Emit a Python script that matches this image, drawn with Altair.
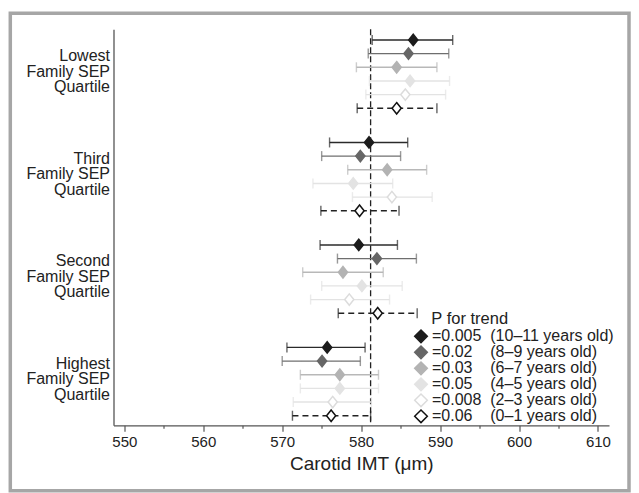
import altair as alt
import pandas as pd

groups = ["Lowest", "Third", "Second", "Highest"]
ages = ["10–11 years old", "8–9 years old", "6–7 years old",
        "4–5 years old", "2–3 years old", "0–1 years old"]
p_trend = ["0.005", "0.02", "0.03", "0.05", "0.008", "0.06"]

mean_lowest = [586.6, 586.0, 584.5, 586.2, 585.6, 584.5]
low_lowest = [581.4, 580.9, 579.4, 581.05, 580.6, 579.5]
high_lowest = [591.6, 591.1, 589.6, 591.2, 590.7, 589.6]

mean_third = [581.0, 579.9, 583.3, 579.0, 583.9, 579.8]
low_third = [576.0, 575.0, 578.3, 573.9, 578.9, 574.9]
high_third = [585.9, 585.0, 588.3, 584.0, 589.0, 584.8]

mean_second = [579.7, 582.0, 577.7, 580.1, 578.5, 582.1]
low_second = [574.8, 577.0, 572.6, 575.0, 573.6, 577.1]
high_second = [584.6, 587.0, 582.8, 585.2, 583.6, 587.1]

mean_highest = [575.7, 575.05, 577.3, 577.3, 576.4, 576.2]
low_highest = [570.6, 570.0, 572.3, 572.3, 571.4, 571.3]
high_highest = [580.5, 579.9, 582.2, 582.2, 581.3, 581.2]

overall_mean = [581.2]

means = [mean_lowest, mean_third, mean_second, mean_highest]
lows = [low_lowest, low_third, low_second, low_highest]
highs = [high_lowest, high_third, high_second, high_highest]

# legend labels
labels = []
for p, a in zip(p_trend, ages):
    pad = "\u2007" * (5 - len(p))
    labels.append("=" + p + pad + "\u00a0\u00a0(" + a + ")")

rows = []
for g, name in enumerate(groups):
    for k in range(6):
        rows.append({
            "group": name,
            "series": labels[k],
            "k": k,
            "pos": g * 7.5 + k,
            "imt": means[g][k],
            "lo": lows[g][k],
            "hi": highs[g][k],
        })
df = pd.DataFrame(rows)
ref = pd.DataFrame({"imt": overall_mean})

fill_range = ["#1c1c1c", "#666666", "#b3b3b3", "#e3e3e3", "#ffffff", "#ffffff"]
stroke_range = ["#1c1c1c", "#666666", "#b3b3b3", "#e3e3e3", "#dcdcdc", "#111111"]
rule_range = ["#2a2a2a", "#6e6e6e", "#b8b8b8", "#e3e3e3", "#e3e3e3", "#222222"]
dash_range = [[1, 0], [1, 0], [1, 0], [1, 0], [1, 0], [6, 4]]

FONT = "Liberation Sans"
W, H = 495.5, 396

xscale = alt.Scale(domain=[548.63, 611.4], nice=False, zero=False)
yscale = alt.Scale(domain=[-0.78, 28.2], nice=False, zero=False, reverse=True)
fill_scale = alt.Scale(domain=labels, range=fill_range)
stroke_scale = alt.Scale(domain=labels, range=stroke_range)
rule_scale = alt.Scale(domain=list(range(6)), range=rule_range)
dash_scale = alt.Scale(domain=list(range(6)), range=dash_range)

label_centers = [g * 7.5 + 2.3 for g in range(len(groups))]
expr = "''"
for g in reversed(range(len(groups))):
    arr = "['" + groups[g] + "','Family SEP','Quartile']"
    expr = f"abs(datum.value - {label_centers[g]}) < 1 ? {arr} : " + expr

x_axis = alt.Axis(
    values=list(range(550, 611, 5)),
    labelExpr="datum.value % 10 === 0 ? datum.label : ''",
    tickSize={"condition": {"test": "datum.value % 10 === 0", "value": 6}, "value": 3},
    title="Carotid IMT (μm)", titlePadding=5, grid=False,
)
y_axis = alt.Axis(
    values=label_centers, labelExpr=expr, ticks=False, tickSize=0,
    labelPadding=4, labelOffset=-15.5, title=None, grid=False,
)

legend = alt.Legend(
    title="\u200b\u00a0\u00a0\u00a0\u00a0P for trend", orient="none", legendX=299.5, legendY=281.5,
    titleFont=FONT, titleFontSize=16.5, titleFontWeight="normal", titleColor="#222222",
    titlePadding=1, labelFont=FONT, labelFontSize=16, labelColor="#222222",
    symbolType="diamond", symbolSize=160, symbolStrokeWidth=1.5, labelOffset=3,
    rowPadding=0, clipHeight=16, padding=0, labelLimit=400,
)

base = alt.Chart(df)

ref_line = alt.Chart(ref).mark_rule(
    color="#222222", strokeWidth=1.3, strokeDash=[6, 3]
).encode(x=alt.X("imt:Q", scale=xscale, axis=x_axis))

bars = base.mark_rule(strokeWidth=1.4).encode(
    x=alt.X("lo:Q", scale=xscale, axis=x_axis),
    x2="hi:Q",
    y=alt.Y("pos:Q", scale=yscale, axis=y_axis),
    color=alt.Color("k:N", scale=rule_scale, legend=None),
    strokeDash=alt.StrokeDash("k:N", scale=dash_scale, legend=None),
)

caps_lo = base.mark_tick(orient="vertical", size=10, thickness=1.4).encode(
    x=alt.X("lo:Q", scale=xscale, axis=x_axis),
    y=alt.Y("pos:Q", scale=yscale, axis=y_axis),
    color=alt.Color("k:N", scale=rule_scale, legend=None),
)
caps_hi = base.mark_tick(orient="vertical", size=10, thickness=1.4).encode(
    x=alt.X("hi:Q", scale=xscale, axis=x_axis),
    y=alt.Y("pos:Q", scale=yscale, axis=y_axis),
    color=alt.Color("k:N", scale=rule_scale, legend=None),
)

points = base.mark_point(
    shape="M0,-1L0.8,0L0,1L-0.8,0Z", size=130, filled=False, opacity=1,
    strokeWidth=1.5, fillOpacity=1,
).encode(
    x=alt.X("imt:Q", scale=xscale, axis=x_axis),
    y=alt.Y("pos:Q", scale=yscale, axis=y_axis),
    fill=alt.Fill("series:N", scale=fill_scale, legend=legend, sort=labels),
    stroke=alt.Stroke("series:N", scale=stroke_scale, legend=legend, sort=labels),
)

frame = alt.Chart(alt.Data(values=[{"a": 1}])).mark_rect(
    fillOpacity=0, stroke="#a6a6a6", strokeWidth=3.5
).encode(
    x=alt.value(-103.2), x2=alt.value(515.5), y=alt.value(-16), y2=alt.value(461.4)
)

chart = alt.layer(frame, ref_line, bars, caps_lo, caps_hi, points).properties(
    width=W, height=H,
    autosize=alt.AutoSizeParams(type="none"),
    padding={"left": 105.5, "top": 21.3, "right": 22, "bottom": 67.7},
    background="white",
).configure_view(stroke=None).configure_axis(
    labelFont=FONT, labelColor="#222222", domainColor="#555555", domainWidth=1.3,
    tickColor="#555555", tickWidth=1.2, titleFont=FONT, titleFontSize=19,
    titleFontWeight="normal", titleColor="#222222",
).configure_axisX(labelFontSize=15, labelPadding=3).configure_axisY(
    labelFontSize=16, labelLineHeight=15.5, labelAlign="right", labelBaseline="middle"
)

chart.save("out.html", embed_options={"renderer": "svg", "actions": False})
